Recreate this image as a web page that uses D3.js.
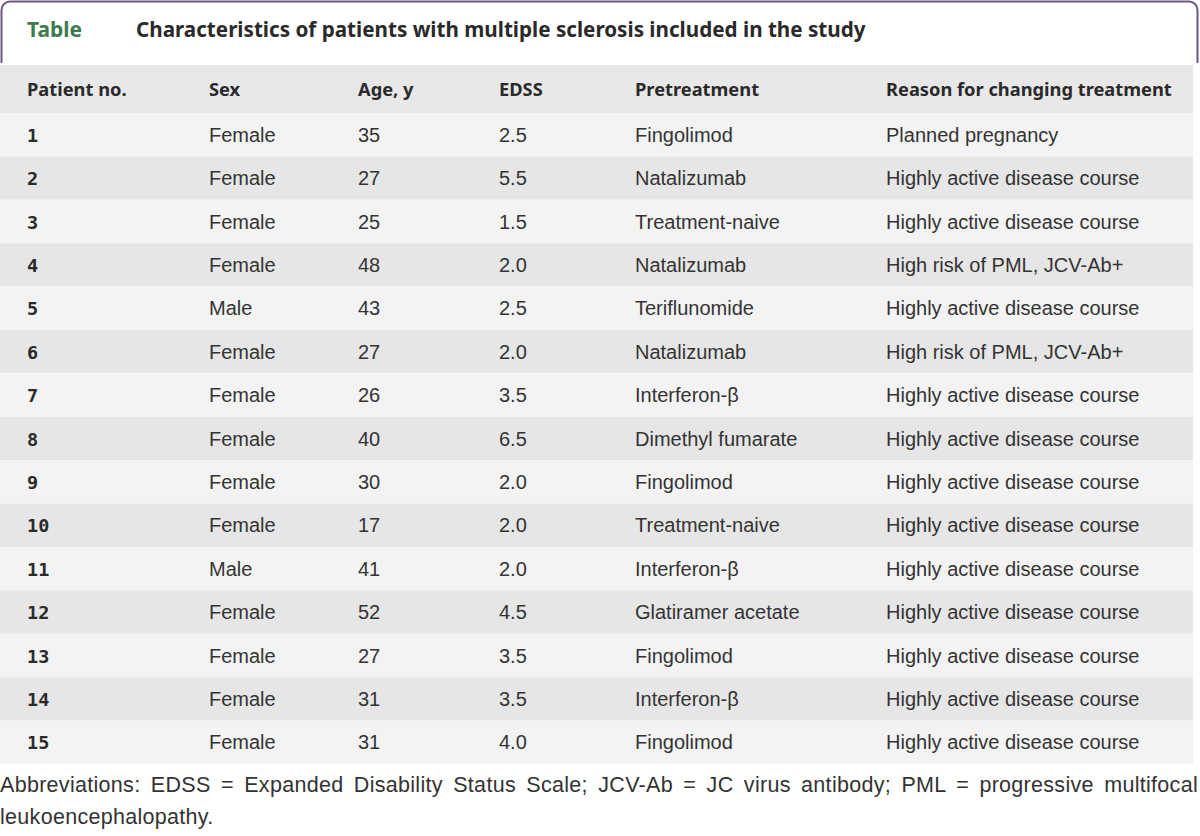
<!DOCTYPE html>
<html><head><meta charset="utf-8">
<script src="https://cdn.jsdelivr.net/npm/d3@7"></script>
<style>body{margin:0;background:#fff}svg{display:block}</style>
</head><body>
<svg id="chart" width="1200" height="836"></svg>
<script>
const tableLabel = "Table";
const title = "Characteristics of patients with multiple sclerosis included in the study";
const columns = ["Patient no.", "Sex", "Age, y", "EDSS", "Pretreatment", "Reason for changing treatment"];
const patientNo = ["1","2","3","4","5","6","7","8","9","10","11","12","13","14","15"];
const sex = ["Female","Female","Female","Female","Male","Female","Female","Female","Female","Female","Male","Female","Female","Female","Female"];
const age = ["35","27","25","48","43","27","26","40","30","17","41","52","27","31","31"];
const edss = ["2.5","5.5","1.5","2.0","2.5","2.0","3.5","6.5","2.0","2.0","2.0","4.5","3.5","3.5","4.0"];
const pretreatment = ["Fingolimod","Natalizumab","Treatment-naive","Natalizumab","Teriflunomide","Natalizumab","Interferon-β","Dimethyl fumarate","Fingolimod","Treatment-naive","Interferon-β","Glatiramer acetate","Fingolimod","Interferon-β","Fingolimod"];
const reason = ["Planned pregnancy","Highly active disease course","Highly active disease course","High risk of PML, JCV-Ab+","Highly active disease course","High risk of PML, JCV-Ab+","Highly active disease course","Highly active disease course","Highly active disease course","Highly active disease course","Highly active disease course","Highly active disease course","Highly active disease course","Highly active disease course","Highly active disease course"];
const footLine1 = "Abbreviations: EDSS = Expanded Disability Status Scale; JCV-Ab = JC virus antibody; PML = progressive multifocal";
const footLine2 = "leukoencephalopathy.";

const svg = d3.select("#chart");
const colX = d3.scaleOrdinal().domain(columns).range([27, 209, 358, 499, 635, 886]);
const y = d3.scaleBand().domain(patientNo).range([113, 764]);

const bodyFont = "'Liberation Sans', Arial, sans-serif";
const boldFont = "'Noto Sans', 'Liberation Sans', sans-serif";

function fit(sel, target) {
  const w = sel.node().getComputedTextLength();
  const fs = +sel.attr("font-size");
  return fs * target / w;
}

// title box
const p = d3.path();
p.moveTo(1.5, 63); p.lineTo(1.5, 10); p.arcTo(1.5, 1.5, 10, 1.5, 8.5);
p.lineTo(1189, 1.5); p.arcTo(1197.5, 1.5, 1197.5, 10, 8.5); p.lineTo(1197.5, 63);
svg.append("path").attr("d", p.toString()).attr("fill", "none").attr("stroke", "#6b5a7e").attr("stroke-width", 2);

const tl = svg.append("text").attr("x", 27).attr("y", 37).text(tableLabel)
  .attr("font-family", boldFont).attr("font-weight", 700).attr("font-size", 19).attr("fill", "#3f7a4f");
tl.attr("font-size", fit(tl, 55));
const tt = svg.append("text").attr("x", 136).attr("y", 37).text(title)
  .attr("font-family", boldFont).attr("font-weight", 700).attr("font-size", 19).attr("fill", "#2a2a2a");
tt.attr("font-size", fit(tt, 730));

// header band
svg.append("rect").attr("x", 0).attr("y", 65).attr("width", 1193).attr("height", 48).attr("fill", "#e8e8e8");
const hdr = svg.append("g").selectAll("text").data(columns).join("text")
  .attr("x", d => colX(d)).attr("y", 96).text(d => d)
  .attr("font-family", boldFont).attr("font-weight", 700).attr("font-size", 19).attr("fill", "#2a2a2a");
hdr.attr("font-size", fit(hdr.filter(d => d === columns[5]), 286));

// rows
const rows = patientNo.map((n, i) => ({n, cells: [n, sex[i], age[i], edss[i], pretreatment[i], reason[i]], i}));
const rg = svg.append("g").selectAll("g").data(rows).join("g");
rg.append("rect").attr("x", 0).attr("y", d => y(d.n)).attr("width", 1193).attr("height", y.bandwidth())
  .attr("fill", d => d.i % 2 === 0 ? "#f3f3f3" : "#e6e6e6");
rg.selectAll("text").data(d => d.cells.map((c, j) => ({c, j, n: d.n}))).join("text")
  .attr("x", d => colX(columns[d.j])).attr("y", d => y(d.n) + y.bandwidth() / 2 + 7)
  .text(d => d.c)
  .attr("font-family", d => d.j === 0 ? "'DejaVu Sans Mono', monospace" : bodyFont)
  .attr("font-weight", d => d.j === 0 ? 700 : 400)
  .attr("font-size", d => d.j === 0 ? 18.5 : 20)
  .attr("fill", d => d.j === 0 ? "#2a2a2a" : "#333");

// footnote (justified first line via word spacing)
const f1 = svg.append("text").attr("x", 0).attr("y", 792).text(footLine1)
  .attr("font-family", bodyFont).attr("font-size", 21.5).attr("letter-spacing", 0.3).attr("fill", "#333");
const nat = f1.node().getComputedTextLength();
const spaces = footLine1.split(" ").length - 1;
f1.attr("word-spacing", Math.max(0, (1198 - nat) / spaces));
svg.append("text").attr("x", 0).attr("y", 824).text(footLine2)
  .attr("font-family", bodyFont).attr("font-size", 21.5).attr("letter-spacing", 0.3).attr("fill", "#333");
</script>
</body></html>
